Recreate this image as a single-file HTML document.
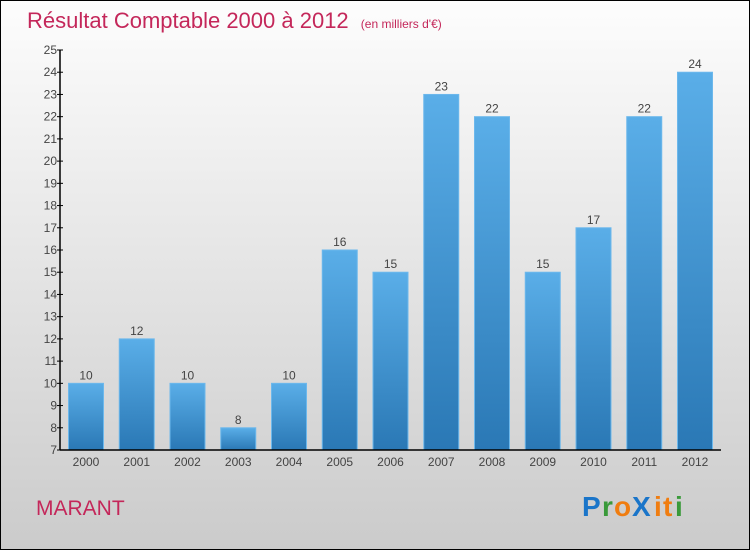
<!DOCTYPE html>
<html><head><meta charset="utf-8"><style>
body{margin:0;width:750px;height:550px;overflow:hidden;font-family:"Liberation Sans",sans-serif}
</style></head><body>
<svg width="750" height="550" xmlns="http://www.w3.org/2000/svg">
<defs>
<linearGradient id="bg" x1="0" y1="0" x2="0" y2="1"><stop offset="0" stop-color="#fdfdfd"/><stop offset="1" stop-color="#cbcbcb"/></linearGradient>
<linearGradient id="bar" x1="0" y1="0" x2="0" y2="1"><stop offset="0" stop-color="#5aaee8"/><stop offset="1" stop-color="#2a78b5"/></linearGradient>
</defs>
<rect x="0.5" y="0.5" width="749" height="549" fill="url(#bg)" stroke="#000"/>
<text x="27" y="28" font-size="22" fill="#c4275a">Résultat Comptable 2000 à 2012 <tspan font-size="12" dx="6">(en milliers d'€)</tspan></text>
<g id="plot"></g>
<text x="36" y="515" font-size="21" fill="#c4275a">MARANT</text>
<g font-size="28" font-weight="bold" font-family="Liberation Sans, sans-serif">
<text x="582" y="516" fill="#1a75c9">P</text><text x="602" y="516" fill="#3a9a3a">r</text><text x="614" y="516" fill="#f07d10">o</text><text x="632" y="516" fill="#1a75c9">X</text><text x="654" y="516" fill="#f07d10">i</text><text x="663" y="516" fill="#f07d10">t</text><text x="675" y="516" fill="#3a9a3a">i</text>
</g>
</svg>
<script>
const categories=["2000","2001","2002","2003","2004","2005","2006","2007","2008","2009","2010","2011","2012"];
const values=[10,12,10,8,10,16,15,23,22,15,17,22,24];
const yTicks=[7,8,9,10,11,12,13,14,15,16,17,18,19,20,21,22,23,24,25];
const NS="http://www.w3.org/2000/svg";
const g=document.getElementById('plot');
const x0=60,x1=721,yMin=7,yMax=25,yTop=50,yBot=450;
const y=v=>yBot-(v-yMin)/(yMax-yMin)*(yBot-yTop);
const step=50.75,first=86,bw=35;
const xc=i=>first+i*step;
function el(t,a){const e=document.createElementNS(NS,t);for(const k in a)e.setAttribute(k,a[k]);g.appendChild(e);return e;}
values.forEach((v,i)=>{
 const r=el('rect',{x:xc(i)-bw/2,y:y(v),width:bw,height:yBot-y(v),fill:'url(#bar)',stroke:'#6cb8ec','stroke-width':1});
 
 
 const t=el('text',{x:xc(i),y:y(v)-4,'text-anchor':'middle','font-size':12,fill:'#444'});
 t.textContent=v;
 
 
 const c=el('text',{x:xc(i),y:466,'text-anchor':'middle','font-size':12,fill:'#444'});
 c.textContent=categories[i];
 
 
});
yTicks.forEach(v=>{
 const l=el('line',{x1:x0-3,x2:x0+3,y1:y(v),y2:y(v),stroke:'#000'});
 
 
 const t=el('text',{x:x0-3,y:y(v)+4,'text-anchor':'end','font-size':12,fill:'#444'});
 t.textContent=v;
 
 
});
const ya=el('line',{x1:x0,x2:x0,y1:yTop,y2:yBot,stroke:'#000','stroke-width':1.5});


const xa=el('line',{x1:x0,x2:x1,y1:yBot,y2:yBot,stroke:'#000','stroke-width':1.5});


</script>
</body></html>
